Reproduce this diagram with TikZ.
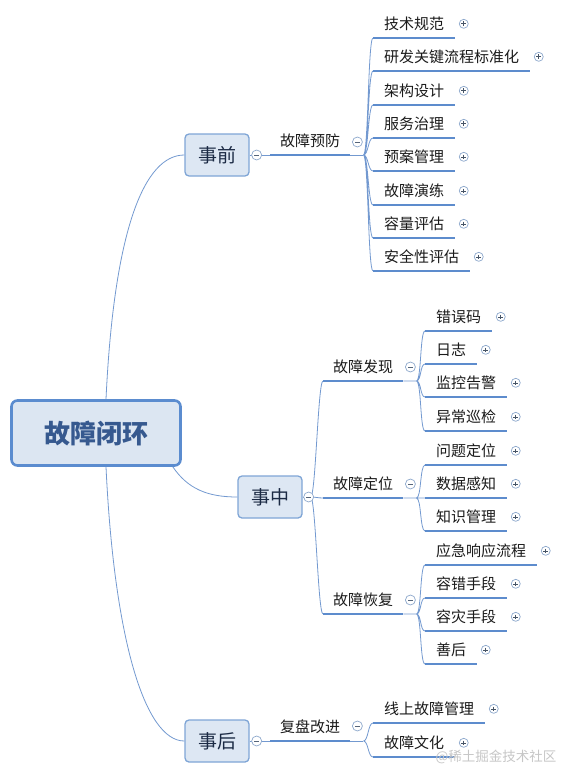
\documentclass[tikz,border=0pt]{standalone}
\usepackage{fontspec}
\usepackage{xcolor}
\usepackage{tikz}
\usetikzlibrary{positioning,calc}
\newfontfamily\cjk{Noto Sans CJK SC}
\definecolor{rootfill}{HTML}{DCE6F2}
\definecolor{rootline}{HTML}{5B8CCF}
\definecolor{rootink}{HTML}{36598F}
\definecolor{topicfill}{HTML}{DDE7F3}
\definecolor{topicline}{HTML}{7FA5D6}
\definecolor{topicink}{HTML}{1B2A44}
\definecolor{branchline}{HTML}{7399D0}
\definecolor{barline}{HTML}{5D8CCD}
\definecolor{foldline}{HTML}{8DA8CC}
\definecolor{leafink}{HTML}{1A1A1A}

\begin{document}
\begin{tikzpicture}[x=1pt, y=-1pt,
  root/.style={draw=rootline, fill=rootfill, line width=2.6pt, rounded corners=6pt, minimum width=169pt, minimum height=65pt, font=\cjk\fontsize{26}{30}\selectfont\bfseries, text=rootink},
  topic/.style={draw=topicline, fill=topicfill, line width=1.3pt, rounded corners=4pt, minimum width=64pt, minimum height=42pt, font=\cjk\fontsize{19}{22}\selectfont, text=topicink},
  sub/.style={anchor=south west, inner xsep=10pt, inner ysep=7.2pt, text height=12.5pt, text depth=1.1pt, font=\cjk\fontsize{15}{18}\selectfont, text=leafink},
  leaf/.style={sub, inner xsep=11pt, label={[more, label distance=3.5pt]right:}},
  link/.style={draw=branchline, line width=0.8pt},
  bar/.style={draw=barline, line width=2.8pt},
  bracket/.style={out=0, in=180, out distance=5pt, in distance=5pt},
  fold/.style={circle, draw=foldline, fill=white, line width=0.7pt, minimum size=10pt, inner sep=0pt, path picture={\draw[foldline!60!black, line width=0.6pt] ([xshift=2.4pt]path picture bounding box.west) -- ([xshift=-2.4pt]path picture bounding box.east);}},
  more/.style={circle, draw=foldline, fill=white, line width=0.7pt, minimum size=9pt, inner sep=0pt, path picture={\draw[foldline!50!black, line width=0.6pt] ([xshift=2.2pt]path picture bounding box.west) -- ([xshift=-2.2pt]path picture bounding box.east) ([yshift=-2.2pt]path picture bounding box.north) -- ([yshift=2.2pt]path picture bounding box.south);}}]
\useasboundingbox (0,0) rectangle (567,781);
\node[root] (root) at (96,433) {故障闭环};
\node[topic] (pre) at (217,155) {事前};
\node[topic] (mid) at (270,497) {事中};
\node[topic] (post) at (217,741) {事后};
\draw[link] ([xshift=10pt]root.north) .. controls +(8,-170) and +(-40,0) .. (pre.west);
\draw[link] ([xshift=-9pt]root.south east) .. controls +(15,22) and +(-30,0) .. (mid.west);
\draw[link] ([xshift=10pt]root.south) .. controls +(8,170) and +(-40,0) .. (post.west);
% second level
\node[sub] (prevent) at (270,155) {故障预防};
\node[sub] (find) at (323,381) {故障发现};
\node[sub] (locate) at (323,498) {故障定位};
\node[sub] (recover) at (323,614) {故障恢复};
\node[sub] (review) at (270,741) {复盘改进};
\coordinate (prevent-j) at ([xshift=13pt]prevent.south east);
\coordinate (find-j) at ([xshift=13pt]find.south east);
\coordinate (locate-j) at ([xshift=13pt]locate.south east);
\coordinate (recover-j) at ([xshift=13pt]recover.south east);
\coordinate (review-j) at ([xshift=13pt]review.south east);
\draw[link] (pre.east) -- (prevent.south west) (prevent.south east) -- (prevent-j);
\draw[link] (post.east) -- (review.south west) (review.south east) -- (review-j);
\draw[link] (mid.east) -- ++(8,0) coordinate (mid-j);
\draw[link] (mid-j) to[bracket] (find.south west) (find.south east) -- (find-j);
\draw[link] (mid-j) to[bracket] (locate.south west) (locate.south east) -- (locate-j);
\draw[link] (mid-j) to[bracket] (recover.south west) (recover.south east) -- (recover-j);
% leaves
\node[leaf] (p1) at (373,38) {技术规范};
\node[leaf] (p2) at (373,71) {研发关键流程标准化};
\node[leaf] (p3) at (373,105) {架构设计};
\node[leaf] (p4) at (373,138) {服务治理};
\node[leaf] (p5) at (373,171) {预案管理};
\node[leaf] (p6) at (373,205) {故障演练};
\node[leaf] (p7) at (373,238) {容量评估};
\node[leaf] (p8) at (373,271) {安全性评估};
\node[leaf] (f1) at (425,331) {错误码};
\node[leaf] (f2) at (425,364) {日志};
\node[leaf] (f3) at (425,397) {监控告警};
\node[leaf] (f4) at (425,431) {异常巡检};
\node[leaf] (l1) at (425,465) {问题定位};
\node[leaf] (l2) at (425,498) {数据感知};
\node[leaf] (l3) at (425,531) {知识管理};
\node[leaf] (r1) at (425,565) {应急响应流程};
\node[leaf] (r2) at (425,598) {容错手段};
\node[leaf] (r3) at (425,631) {容灾手段};
\node[leaf] (r4) at (425,664) {善后};
\node[leaf] (v1) at (373,723) {线上故障管理};
\node[leaf] (v2) at (373,757) {故障文化};
\draw[link] (prevent-j) to[bracket] (p1.south west) (prevent-j) to[bracket] (p2.south west)
  (prevent-j) to[bracket] (p3.south west) (prevent-j) to[bracket] (p4.south west)
  (prevent-j) to[bracket] (p5.south west) (prevent-j) to[bracket] (p6.south west)
  (prevent-j) to[bracket] (p7.south west) (prevent-j) to[bracket] (p8.south west);
\draw[link] (find-j) to[bracket] (f1.south west) (find-j) to[bracket] (f2.south west)
  (find-j) to[bracket] (f3.south west) (find-j) to[bracket] (f4.south west);
\draw[link] (locate-j) to[bracket] (l1.south west) (locate-j) to[bracket] (l2.south west)
  (locate-j) to[bracket] (l3.south west);
\draw[link] (recover-j) to[bracket] (r1.south west) (recover-j) to[bracket] (r2.south west)
  (recover-j) to[bracket] (r3.south west) (recover-j) to[bracket] (r4.south west);
\draw[link] (review-j) to[bracket] (v1.south west) (review-j) to[bracket] (v2.south west);
% underlines
\draw[bar] (prevent.south west) -- (prevent.south east) (review.south west) -- (review.south east)
  (find.south west) -- (find.south east) (locate.south west) -- (locate.south east)
  (recover.south west) -- (recover.south east);
\draw[bar] (p1.south west) -- (p1.south east) (p2.south west) -- (p2.south east)
  (p3.south west) -- (p3.south east) (p4.south west) -- (p4.south east)
  (p5.south west) -- (p5.south east) (p6.south west) -- (p6.south east)
  (p7.south west) -- (p7.south east) (p8.south west) -- (p8.south east);
\draw[bar] (f1.south west) -- (f1.south east) (f2.south west) -- (f2.south east)
  (f3.south west) -- (f3.south east) (f4.south west) -- (f4.south east)
  (l1.south west) -- (l1.south east) (l2.south west) -- (l2.south east)
  (l3.south west) -- (l3.south east);
\draw[bar] (r1.south west) -- (r1.south east) (r2.south west) -- (r2.south east)
  (r3.south west) -- (r3.south east) (r4.south west) -- (r4.south east)
  (v1.south west) -- (v1.south east) (v2.south west) -- (v2.south east);
% fold marks
\node[fold] (pre-o) at ([xshift=7pt]pre.east) {};
\node[fold] (mid-o) at ([xshift=6pt]mid.east) {};
\node[fold] (post-o) at ([xshift=7pt]post.east) {};
\node[fold] (prevent-o) at ([xshift=7pt,yshift=13pt]prevent.south east) {};
\node[fold] (find-o) at ([xshift=7pt,yshift=14pt]find.south east) {};
\node[fold] (locate-o) at ([xshift=7pt,yshift=14pt]locate.south east) {};
\node[fold] (recover-o) at ([xshift=7pt,yshift=14pt]recover.south east) {};
\node[fold] (review-o) at ([xshift=7pt,yshift=15pt]review.south east) {};
\node[text=gray!45, font=\cjk\fontsize{13.5}{16}\selectfont] (mark) at (496,757) {@稀土掘金技术社区};
\end{tikzpicture}
\end{document}
